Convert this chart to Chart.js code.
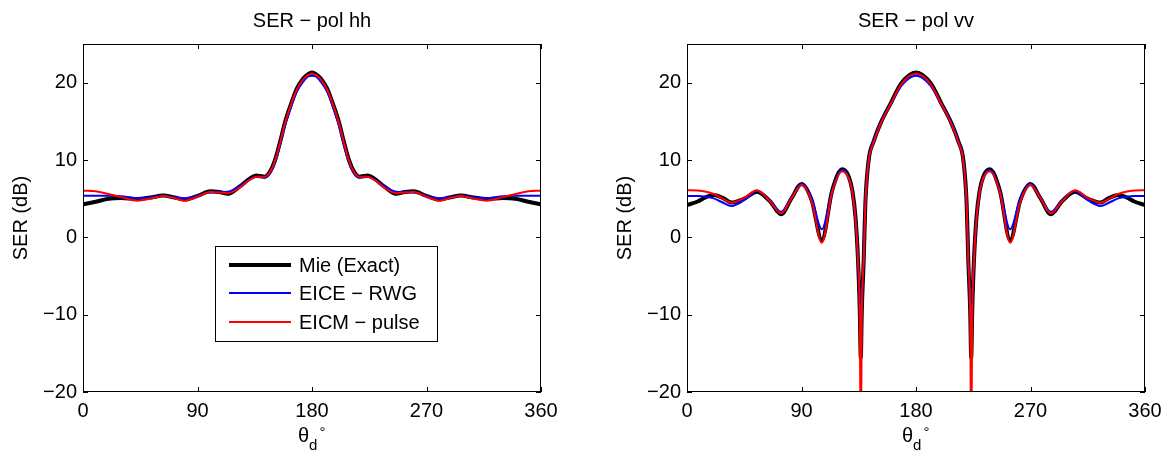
<!DOCTYPE html>
<html>
<head>
<meta charset="utf-8">
<script src="https://cdn.jsdelivr.net/npm/chart.js@4.4.0/dist/chart.umd.min.js"></script>
<style>
  html, body { margin: 0; padding: 0; background: #fff; }
  #wrap { position: relative; width: 1171px; height: 456px; }
  .pane { position: absolute; top: 0; height: 456px; }
</style>
</head>
<body>
<div id="wrap">
  <div class="pane" style="left:0;width:585px"><canvas id="hh" width="585" height="456"></canvas></div>
  <div class="pane" style="left:604px;width:567px"><canvas id="vv" width="567" height="456"></canvas></div>
</div>
<script>
// tick labels
const xTicks = [0, 90, 180, 270, 360];
const yTicks = [-20, -10, 0, 10, 20];

// pol hh
const hhTheta = [0, 10, 20, 30, 43, 53, 63, 72, 80, 90, 100, 107, 114, 123, 131, 136, 143, 147, 151, 155, 159, 163, 168, 173, 177, 180,
                 183, 187, 192, 197, 201, 205, 209, 213, 217, 224, 229, 237, 246, 253, 260, 270, 280, 288, 297, 307, 317, 330, 340, 350, 360];
const hhMie   = [4.27, 4.6, 5.0, 5.1, 4.95, 5.15, 5.4, 5.15, 4.9, 5.35, 5.95, 5.85, 5.65, 6.55, 7.6, 8.0, 7.85, 8.5, 10.0, 12.4, 15.0, 17.0, 19.2, 20.5, 21.1, 21.3,
                 21.1, 20.5, 19.2, 17.0, 15.0, 12.4, 10.0, 8.5, 7.85, 8.0, 7.6, 6.55, 5.65, 5.85, 5.95, 5.35, 4.9, 5.15, 5.4, 5.15, 4.95, 5.1, 5.0, 4.6, 4.27];
const hhRwg   = [5.39, 5.39, 5.37, 5.3, 5.04, 5.15, 5.35, 5.2, 5.04, 5.4, 5.8, 5.85, 5.9, 6.6, 7.5, 7.8, 7.75, 8.3, 9.7, 12.0, 14.6, 16.6, 18.8, 20.1, 20.8, 20.9,
                 20.8, 20.1, 18.8, 16.6, 14.6, 12.0, 9.7, 8.3, 7.75, 7.8, 7.5, 6.6, 5.9, 5.85, 5.8, 5.4, 5.04, 5.2, 5.35, 5.15, 5.04, 5.3, 5.37, 5.39, 5.39];
const hhPulse = [6.03, 5.95, 5.6, 5.2, 4.74, 5.0, 5.35, 5.05, 4.74, 5.25, 5.86, 5.8, 5.7, 6.4, 7.45, 7.85, 7.85, 8.45, 9.9, 12.3, 14.9, 16.9, 19.1, 20.4, 21.0, 21.2,
                 21.0, 20.4, 19.1, 16.9, 14.9, 12.3, 9.9, 8.45, 7.85, 7.85, 7.45, 6.4, 5.7, 5.8, 5.86, 5.25, 4.74, 5.05, 5.35, 5.0, 4.74, 5.2, 5.6, 5.95, 6.03];

// pol vv
const vvTheta = [0, 8, 15, 21, 28, 35, 45, 55, 65, 74, 82, 90, 98, 106, 114, 122, 127, 130, 132.5, 134.5, 135.8, 136.6, 137.4, 138.9, 140.2, 142.8, 146.7, 152, 160, 168, 175, 180,
                 185, 192, 200, 208, 213.3, 217.2, 219.8, 221.1, 222.6, 223.4, 224.2, 225.5, 227.5, 230, 233, 238, 246, 254, 262, 270, 278, 286, 295, 305, 315, 325, 332, 339, 345, 352, 360];
const vvMie   = [4.18, 4.6, 5.2, 5.47, 5.1, 4.5, 5.0, 5.9, 4.7, 3.0, 5.0, 6.9, 4.8, -0.35, 6.0, 8.8, 7.9, 6.0, 2.5, -3.2, -9.5, -15.6, -9.5, -2.9, 4.4, 10.0, 12.4, 14.7, 17.3, 19.8, 21.0, 21.3,
                 21.0, 19.8, 17.3, 14.7, 12.4, 10.0, 4.4, -2.9, -9.5, -15.6, -9.5, -3.2, 2.5, 6.0, 7.9, 8.8, 6.0, -0.35, 4.8, 6.9, 5.0, 3.0, 4.7, 5.9, 5.0, 4.5, 5.1, 5.47, 5.2, 4.6, 4.18];
const vvRwg   = [5.34, 5.34, 5.25, 5.04, 4.5, 4.05, 4.8, 6.0, 4.8, 3.3, 5.1, 6.9, 5.0, 1.05, 6.0, 8.7, 7.8, 5.9, 2.4, -3.3, -9.7, -16, -9.7, -3.0, 4.3, 9.9, 12.5, 14.8, 17.2, 19.5, 20.6, 20.9,
                 20.6, 19.5, 17.2, 14.8, 12.5, 9.9, 4.3, -3.0, -9.7, -16, -9.7, -3.3, 2.4, 5.9, 7.8, 8.7, 6.0, 1.05, 5.0, 6.9, 5.1, 3.3, 4.8, 6.0, 4.8, 4.05, 4.5, 5.04, 5.25, 5.34, 5.34];
const vvPulse = [6.1, 6.05, 5.9, 5.6, 5.0, 4.48, 5.1, 6.1, 4.7, 3.1, 5.0, 6.77, 4.6, -0.7, 5.8, 8.5, 7.7, 5.8, 2.3, -3.4, -10, -28, -10, -3.0, 4.3, 9.9, 12.3, 14.6, 17.2, 19.7, 20.9, 21.2,
                 20.9, 19.7, 17.2, 14.6, 12.3, 9.9, 4.3, -3.0, -10, -28, -10, -3.4, 2.3, 5.8, 7.7, 8.5, 5.8, -0.7, 4.6, 6.77, 5.0, 3.1, 4.7, 6.1, 5.1, 4.48, 5.0, 5.6, 5.9, 6.05, 6.1];

const FONT = "'Liberation Sans', Arial, Helvetica, sans-serif";
Chart.defaults.font.family = FONT;
Chart.defaults.color = '#000';

function pts(xs, ys) {
    return xs.map((t, i) => ({x: t, y: ys[i]}));
}

// matlab style box, inner ticks, theta_d label and the legend
const matlabAxes = {
    id: 'matlabAxes',
    afterDraw(chart, args, opts) {
        const {ctx, chartArea: a, scales: {x, y}} = chart;
        ctx.save();
        ctx.strokeStyle = '#000';
        ctx.lineWidth = 1;
        ctx.strokeRect(Math.round(a.left) + 0.5, Math.round(a.top) + 0.5,
            Math.round(a.right - a.left) - 1, Math.round(a.bottom - a.top) - 1);
        ctx.beginPath();
        xTicks.forEach(v => {
            const px = Math.round(x.getPixelForValue(v)) + 0.5;
            ctx.moveTo(px, a.bottom); ctx.lineTo(px, a.bottom - 5);
            ctx.moveTo(px, a.top); ctx.lineTo(px, a.top + 5);
        });
        yTicks.forEach(v => {
            const py = Math.round(y.getPixelForValue(v)) + 0.5;
            ctx.moveTo(a.left, py); ctx.lineTo(a.left + 5, py);
            ctx.moveTo(a.right, py); ctx.lineTo(a.right - 5, py);
        });
        ctx.stroke();

        // x label: theta with subscript d and degree sign
        const cx = (a.left + a.right) / 2;
        ctx.fillStyle = '#000';
        ctx.textBaseline = 'alphabetic';
        ctx.textAlign = 'left';
        ctx.font = '20px ' + FONT;
        const tw = ctx.measureText('θ').width;
        ctx.font = '15px ' + FONT;
        const dw = ctx.measureText('d').width;
        const x0 = cx - 14;
        ctx.font = '20px ' + FONT;
        ctx.fillText('θ', x0, 442);
        ctx.font = '15px ' + FONT;
        ctx.fillText('d', x0 + tw, 450);
        ctx.fillText('°', x0 + tw + dw + 2, 437);

        if (opts.legend) {
            const L = opts.legend;
            ctx.fillStyle = '#fff';
            ctx.fillRect(L.x, L.y, L.w, L.h);
            ctx.strokeStyle = '#000';
            ctx.lineWidth = 1;
            ctx.strokeRect(L.x + 0.5, L.y + 0.5, L.w, L.h);
            ctx.font = '20px ' + FONT;
            ctx.textBaseline = 'middle';
            chart.data.datasets.forEach((ds, i) => {
                const ry = L.rows[i];
                ctx.strokeStyle = ds.borderColor;
                ctx.lineWidth = ds.borderWidth;
                ctx.beginPath();
                ctx.moveTo(L.x + 14, ry);
                ctx.lineTo(L.x + 76, ry);
                ctx.stroke();
                ctx.fillStyle = '#000';
                ctx.fillText(ds.label, L.x + 84, ry + 1);
            });
        }
        ctx.restore();
    }
};

function makeChart(id, title, theta, mie, rwg, pulse, rightPad, legend) {
    return new Chart(document.getElementById(id), {
        type: 'line',
        data: {
            datasets: [
                {label: 'Mie (Exact)', data: pts(theta, mie), borderColor: '#000000', borderWidth: 4, order: 3},
                {label: 'EICE \u2212 RWG', data: pts(theta, rwg), borderColor: '#0000ff', borderWidth: 2, order: 2},
                {label: 'EICM \u2212 pulse', data: pts(theta, pulse), borderColor: '#ff0000', borderWidth: 2, order: 1}
            ]
        },
        options: {
            responsive: false,
            animation: false,
            devicePixelRatio: 1,
            layout: {padding: {left: 0, right: rightPad, top: 0, bottom: 0}},
            elements: {
                point: {radius: 0},
                line: {cubicInterpolationMode: 'monotone', fill: false}
            },
            scales: {
                x: {
                    type: 'linear',
                    min: 0, max: 360,
                    afterBuildTicks: s => { s.ticks = xTicks.map(v => ({value: v})); },
                    afterFit: s => { s.height = 64; },
                    grid: {display: false, drawTicks: false},
                    border: {display: false},
                    ticks: {font: {size: 20}, color: '#000', padding: 7, maxRotation: 0, autoSkip: false}
                },
                y: {
                    type: 'linear',
                    min: -20, max: 25,
                    afterBuildTicks: s => { s.ticks = yTicks.map(v => ({value: v})); },
                    afterFit: s => { s.width = 83; },
                    grid: {display: false, drawTicks: false},
                    border: {display: false},
                    ticks: {
                        font: {size: 20}, color: '#000', padding: 6,
                        callback: v => String(v).replace('-', '\u2212')
                    },
                    title: {display: true, text: 'SER (dB)', font: {size: 20}, color: '#000', padding: {top: 9, bottom: 0}}
                }
            },
            plugins: {
                legend: {display: false},
                tooltip: {enabled: false},
                title: {
                    display: true,
                    fullSize: false,
                    text: title,
                    color: '#000',
                    font: {size: 20, weight: 'normal'},
                    padding: {top: 9, bottom: 11}
                },
                matlabAxes: {legend: legend}
            }
        },
        plugins: [matlabAxes]
    });
}

makeChart('hh', 'SER \u2212 pol hh', hhTheta, hhMie, hhRwg, hhPulse, 44,
    {x: 215, y: 246, w: 222, h: 95, rows: [265, 293, 322]});
makeChart('vv', 'SER \u2212 pol vv', vvTheta, vvMie, vvRwg, vvPulse, 26, null);
</script>
</body>
</html>
